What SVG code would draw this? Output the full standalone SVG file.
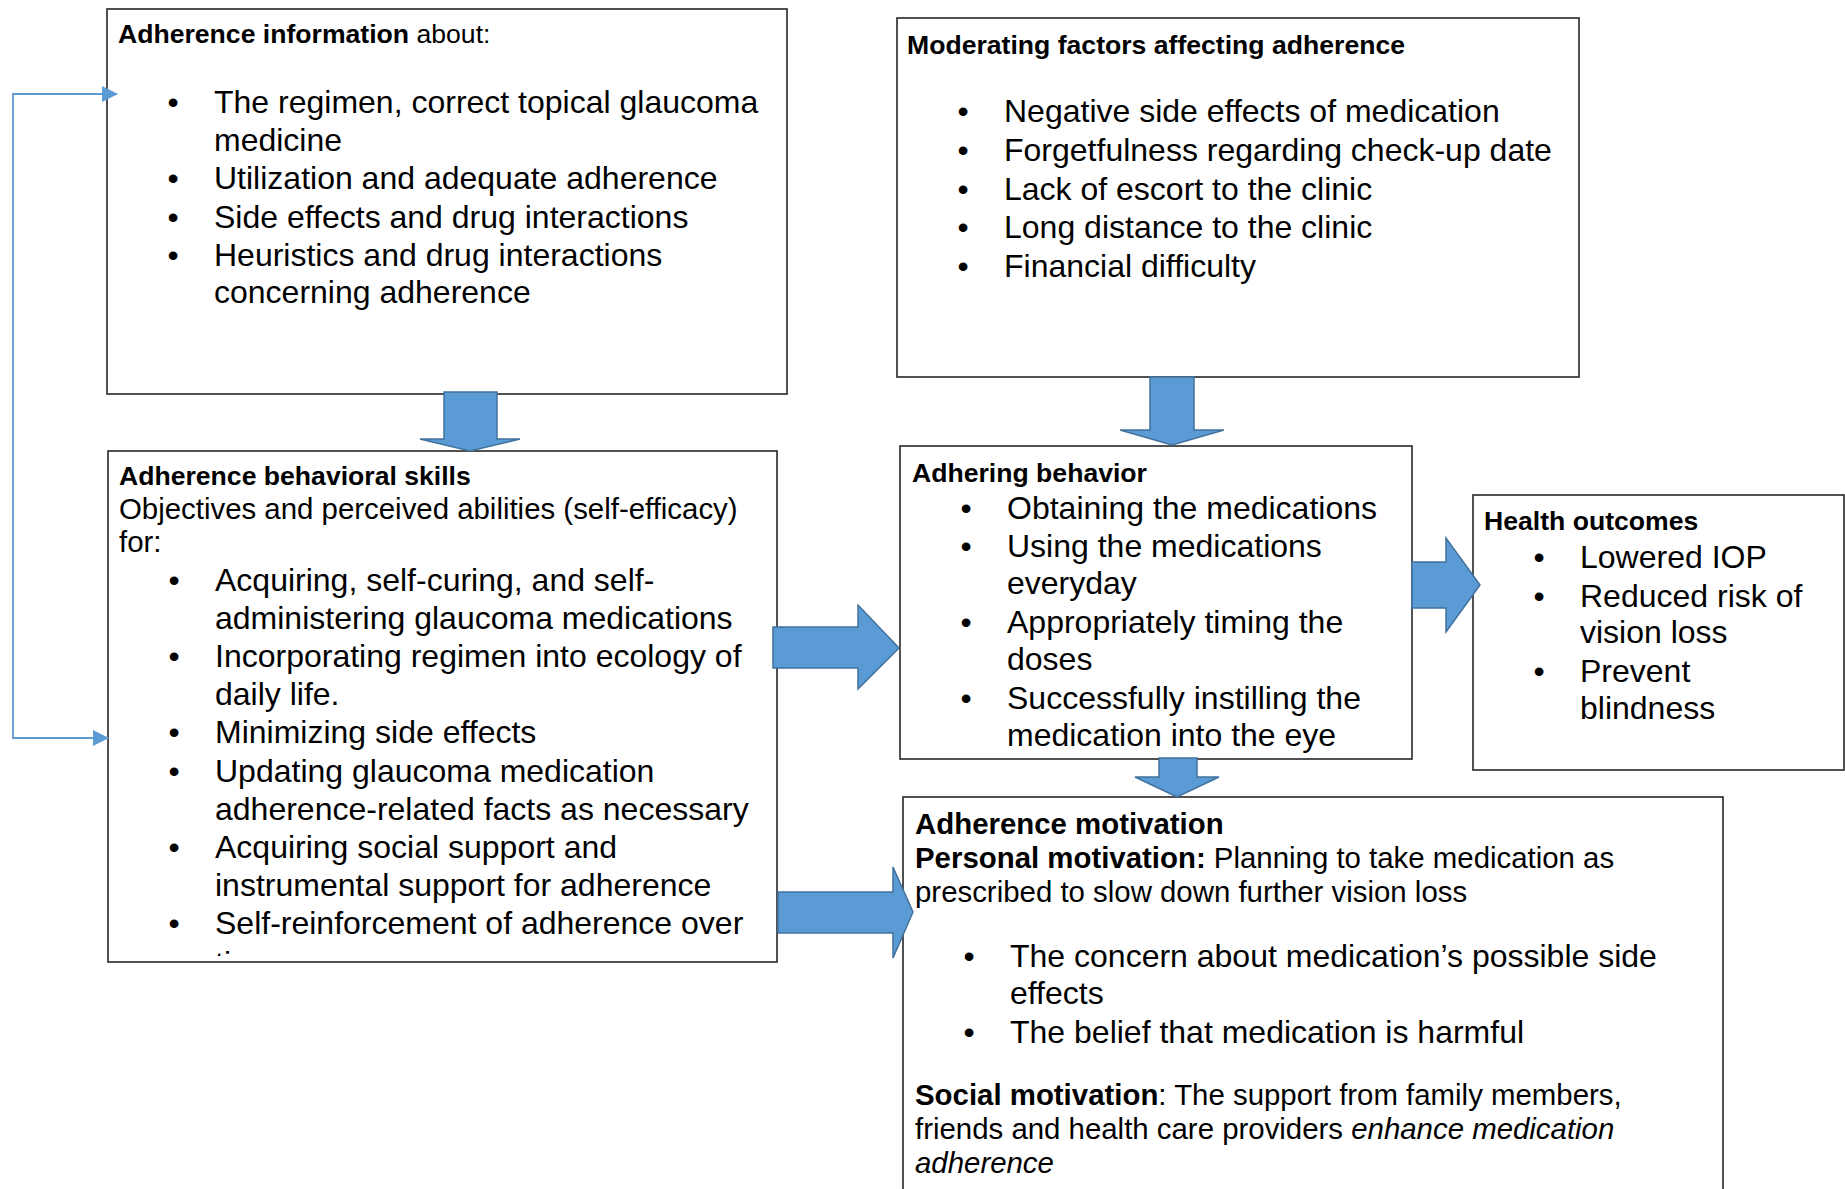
<svg xmlns="http://www.w3.org/2000/svg" width="1845" height="1189" viewBox="0 0 1845 1189">
  <style>
    .box { fill: #ffffff; stroke: #262626; stroke-width: 1.6; }
    .blk { fill: #5b9bd5; stroke: #41719c; stroke-width: 1.5; stroke-linejoin: miter; }
    .fb { fill: none; stroke: #5b9bd5; stroke-width: 1.8; }
    text { font-family: "Liberation Sans", Arial, Helvetica, sans-serif; fill: #000000; }
    .h { font-size: 26.6px; font-weight: bold; }
    .b { font-size: 32px; }
    .m { font-size: 29.4px; }
    .d { font-size: 32px; text-anchor: middle; }
    .bold { font-weight: bold; }
    .it { font-style: italic; }
  </style>
  <defs>
    <marker id="tri" viewBox="0 0 16 16" refX="15" refY="8" markerWidth="16" markerHeight="16" markerUnits="userSpaceOnUse" orient="auto-start-reverse">
      <path d="M0,0 L16,8 L0,16 z" fill="#5b9bd5"/>
    </marker>
    <clipPath id="clip-skills">
      <rect x="108" y="451" width="669" height="505"/>
    </clipPath>
  </defs>

  <rect width="1845" height="1189" fill="#ffffff"/>

  <!-- Adherence information -->
  <g id="node-information">
    <rect class="box" x="107" y="9" width="680" height="385"/>
    <text class="h" x="118" y="43">Adherence information<tspan font-weight="normal"> about:</tspan></text>
    <text class="d" x="173" y="113">•</text>
    <text class="b" x="214" y="113">The regimen, correct topical glaucoma</text>
    <text class="b" x="214" y="151">medicine</text>
    <text class="d" x="173" y="189">•</text>
    <text class="b" x="214" y="189">Utilization and adequate adherence</text>
    <text class="d" x="173" y="228">•</text>
    <text class="b" x="214" y="228">Side effects and drug interactions</text>
    <text class="d" x="173" y="266">•</text>
    <text class="b" x="214" y="266">Heuristics and drug interactions</text>
    <text class="b" x="214" y="303">concerning adherence</text>
  </g>

  <!-- Moderating factors -->
  <g id="node-moderating">
    <rect class="box" x="897" y="18" width="682" height="359"/>
    <text class="h" x="907" y="54">Moderating factors affecting adherence</text>
    <text class="d" x="963" y="122">•</text>
    <text class="b" x="1004" y="122">Negative side effects of medication</text>
    <text class="d" x="963" y="161">•</text>
    <text class="b" x="1004" y="161">Forgetfulness regarding check-up date</text>
    <text class="d" x="963" y="200">•</text>
    <text class="b" x="1004" y="200">Lack of escort to the clinic</text>
    <text class="d" x="963" y="238">•</text>
    <text class="b" x="1004" y="238">Long distance to the clinic</text>
    <text class="d" x="963" y="277">•</text>
    <text class="b" x="1004" y="277">Financial difficulty</text>
  </g>

  <!-- Adherence behavioral skills -->
  <g id="node-skills">
    <rect class="box" x="108" y="451" width="669" height="511"/>
    <g clip-path="url(#clip-skills)">
      <text class="h" x="119" y="485">Adherence behavioral skills</text>
      <text class="m" x="119" y="519">Objectives and perceived abilities (self-efficacy)</text>
      <text class="m" x="119" y="552">for:</text>
      <text class="d" x="174" y="591">•</text>
      <text class="b" x="215" y="591">Acquiring, self-curing, and self-</text>
      <text class="b" x="215" y="629">administering glaucoma medications</text>
      <text class="d" x="174" y="667">•</text>
      <text class="b" x="215" y="667">Incorporating regimen into ecology of</text>
      <text class="b" x="215" y="705">daily life.</text>
      <text class="d" x="174" y="743">•</text>
      <text class="b" x="215" y="743">Minimizing side effects</text>
      <text class="d" x="174" y="782">•</text>
      <text class="b" x="215" y="782">Updating glaucoma medication</text>
      <text class="b" x="215" y="820">adherence-related facts as necessary</text>
      <text class="d" x="174" y="858">•</text>
      <text class="b" x="215" y="858">Acquiring social support and</text>
      <text class="b" x="215" y="896">instrumental support for adherence</text>
      <text class="d" x="174" y="934">•</text>
      <text class="b" x="215" y="934">Self-reinforcement of adherence over</text>
      <text class="b" x="215" y="974">time</text>
    </g>
  </g>

  <!-- Adhering behavior -->
  <g id="node-behavior">
    <rect class="box" x="900" y="446" width="512" height="313"/>
    <text class="h" x="912" y="482">Adhering behavior</text>
    <text class="d" x="966" y="519">•</text>
    <text class="b" x="1007" y="519">Obtaining the medications</text>
    <text class="d" x="966" y="557">•</text>
    <text class="b" x="1007" y="557">Using the medications</text>
    <text class="b" x="1007" y="594">everyday</text>
    <text class="d" x="966" y="633">•</text>
    <text class="b" x="1007" y="633">Appropriately timing the</text>
    <text class="b" x="1007" y="670">doses</text>
    <text class="d" x="966" y="709">•</text>
    <text class="b" x="1007" y="709">Successfully instilling the</text>
    <text class="b" x="1007" y="746">medication into the eye</text>
  </g>

  <!-- Health outcomes -->
  <g id="node-outcomes">
    <rect class="box" x="1473" y="495" width="371" height="275"/>
    <text class="h" x="1484" y="530">Health outcomes</text>
    <text class="d" x="1539" y="568">•</text>
    <text class="b" x="1580" y="568">Lowered IOP</text>
    <text class="d" x="1539" y="607">•</text>
    <text class="b" x="1580" y="607">Reduced risk of</text>
    <text class="b" x="1580" y="643">vision loss</text>
    <text class="d" x="1539" y="682">•</text>
    <text class="b" x="1580" y="682">Prevent</text>
    <text class="b" x="1580" y="719">blindness</text>
  </g>

  <!-- Adherence motivation -->
  <g id="node-motivation">
    <rect class="box" x="903" y="797" width="820" height="420"/>
    <text class="m bold" x="915" y="834">Adherence motivation</text>
    <text class="m" x="915" y="868"><tspan class="bold">Personal motivation:</tspan> Planning to take medication as</text>
    <text class="m" x="915" y="902">prescribed to slow down further vision loss</text>
    <text class="d" x="969" y="967">•</text>
    <text class="b" x="1010" y="967">The concern about medication’s possible side</text>
    <text class="b" x="1010" y="1004">effects</text>
    <text class="d" x="969" y="1043">•</text>
    <text class="b" x="1010" y="1043">The belief that medication is harmful</text>
    <text class="m" x="915" y="1105"><tspan class="bold">Social motivation</tspan>: The support from family members,</text>
    <text class="m" x="915" y="1139">friends and health care providers <tspan class="it">enhance medication</tspan></text>
    <text class="m it" x="915" y="1173">adherence</text>
  </g>

  <!-- Connectors -->
  <g id="connectors">
    <!-- information -> skills -->
    <polygon class="blk" points="444,392 497,392 497,439 520,439 470,451 420,439 444,439"/>
    <!-- moderating -> behavior -->
    <polygon class="blk" points="1150,377 1194,377 1194,430 1224,430 1172,445 1120,430 1150,430"/>
    <!-- skills -> behavior -->
    <polygon class="blk" points="773,627 858,627 858,605 899,648 858,689 858,668 773,668"/>
    <!-- behavior -> outcomes -->
    <polygon class="blk" points="1412,562 1446,562 1446,538 1480,585 1446,632 1446,608 1412,608"/>
    <!-- behavior -> motivation -->
    <polygon class="blk" points="1159,758 1197,758 1197,777 1219,777 1177,797 1135,777 1159,777"/>
    <!-- skills -> motivation -->
    <polygon class="blk" points="778,892 893,892 893,867 913,912 893,958 893,933 778,933"/>
    <!-- feedback loop between information and skills -->
    <path class="fb" d="M117,94 H13 V738 H108" marker-start="url(#tri)" marker-end="url(#tri)"/>
  </g>
</svg>
